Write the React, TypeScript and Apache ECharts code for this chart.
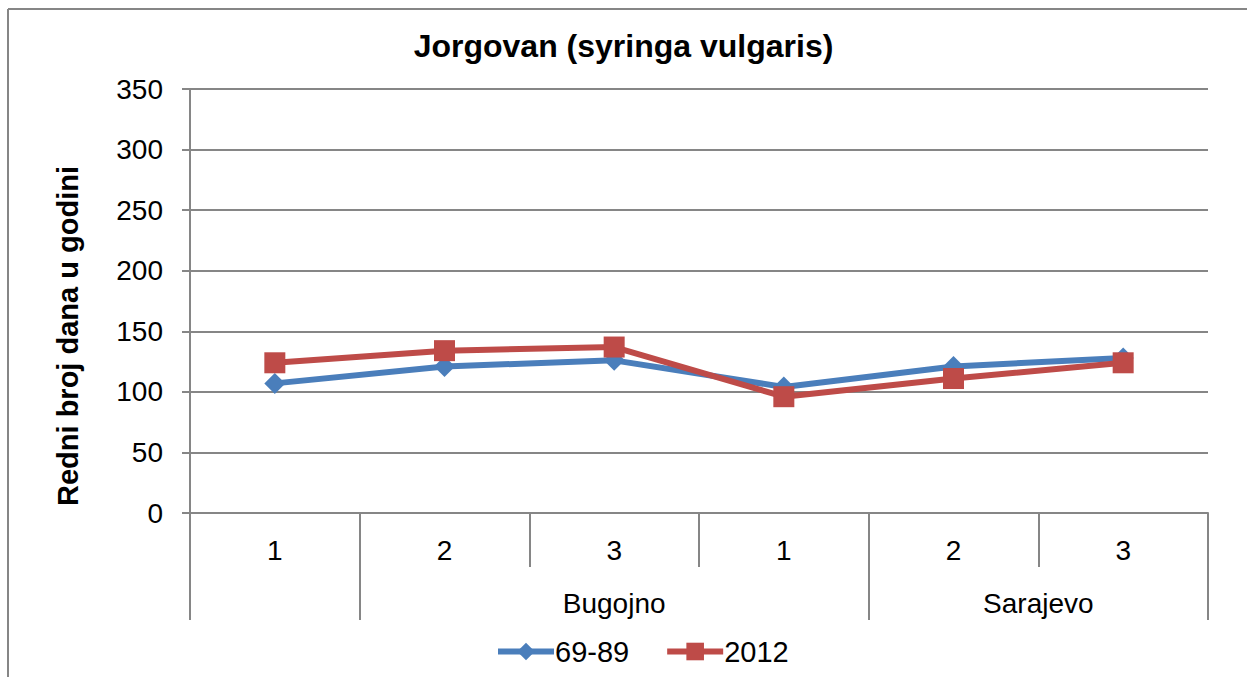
import React, { useEffect, useRef } from "react";
import * as echarts from "echarts";

const categories = ["1", "2", "3", "1", "2", "3"];
const series6989 = [107, 121, 126, 104, 121, 128];
const series2012 = [124, 134, 137, 96, 111, 124];
const groupBoundaries = [0, 1, 4, 6];
const groupLabelPositions = [2.5, 5];
const groupLabels = ["Bugojno", "Sarajevo"];
const yTicks = { min: 0, max: 350, interval: 50 };

export default function App() {
  const ref = useRef<HTMLDivElement>(null);
  useEffect(() => {
    if (!ref.current) return;
    const chart = echarts.init(ref.current, null, { renderer: "svg" });
    const font = "Arial, 'Liberation Sans', sans-serif";
    const gray = "#868686";
    chart.setOption({
      animation: false,
      textStyle: { fontFamily: font },
      title: {
        text: "Jorgovan (syringa vulgaris)",
        left: "center",
        top: 25,
        textStyle: { fontSize: 32, fontWeight: "bold", color: "#000", fontFamily: font },
      },
      legend: {
        top: 632,
        left: 490,
        itemWidth: 56,
        itemHeight: 22,
        itemGap: 35,
        lineStyle: { width: 6 },
        textStyle: { fontSize: 29, color: "#000", fontFamily: font, padding: [0, 0, 0, -4] },
        data: ["69-89", "2012"],
      },
      grid: { left: 190, right: 39, top: 89, bottom: 164, containLabel: false },
      xAxis: [
        {
          type: "category",
          data: categories,
          boundaryGap: true,
          axisLine: { show: true, lineStyle: { color: gray, width: 2 } },
          axisTick: { show: true, length: 54, interval: 0, lineStyle: { color: gray, width: 2 } },
          axisLabel: { fontSize: 28, color: "#000", margin: 23, fontFamily: font },
          splitLine: { show: false },
        },
        {
          type: "value",
          min: 0,
          max: 6,
          position: "bottom",
          axisLine: { show: false },
          axisTick: {
            show: true,
            length: 107,
            customValues: groupBoundaries,
            lineStyle: { color: gray, width: 2 },
          },
          axisLabel: {
            fontSize: 28,
            color: "#000",
            margin: 76,
            fontFamily: font,
            customValues: groupLabelPositions,
            formatter: (v: number) => groupLabels[groupLabelPositions.indexOf(v)] ?? "",
          },
          splitLine: { show: false },
        },
      ],
      yAxis: {
        type: "value",
        min: yTicks.min,
        max: yTicks.max,
        interval: yTicks.interval,
        name: "Redni broj dana u godini",
        nameLocation: "middle",
        nameGap: 108,
        nameTextStyle: { fontSize: 29, fontWeight: "bold", color: "#000", fontFamily: font, padding: [0, 70, 0, 0] },
        axisLine: { show: true, lineStyle: { color: gray, width: 2 } },
        axisTick: { show: true, length: 8, lineStyle: { color: gray, width: 2 } },
        axisLabel: { fontSize: 28, color: "#000", margin: 27, fontFamily: font },
        splitLine: { show: true, lineStyle: { color: gray, width: 2 } },
      },
      series: [
        {
          name: "69-89",
          type: "line",
          data: series6989,
          symbol: "diamond",
          symbolSize: 21,
          lineStyle: { color: "#4A7EBB", width: 6 },
          itemStyle: { color: "#4A7EBB" },
          z: 2,
        },
        {
          name: "2012",
          type: "line",
          data: series2012,
          symbol: "rect",
          symbolSize: 21,
          lineStyle: { color: "#BE4B48", width: 6 },
          itemStyle: { color: "#BE4B48" },
          z: 3,
        },
      ],
      graphic: [
        { type: "line", shape: { x1: 8, y1: 9, x2: 1247, y2: 9 }, style: { stroke: gray, lineWidth: 2 } },
        { type: "line", shape: { x1: 8, y1: 9, x2: 8, y2: 677 }, style: { stroke: gray, lineWidth: 2 } },
      ],
    });
    return () => chart.dispose();
  }, []);
  return (
    <div
      ref={ref}
      style={{ position: "fixed", left: 0, top: 0, width: 1247, height: 677, background: "#fff" }}
    />
  );
}
